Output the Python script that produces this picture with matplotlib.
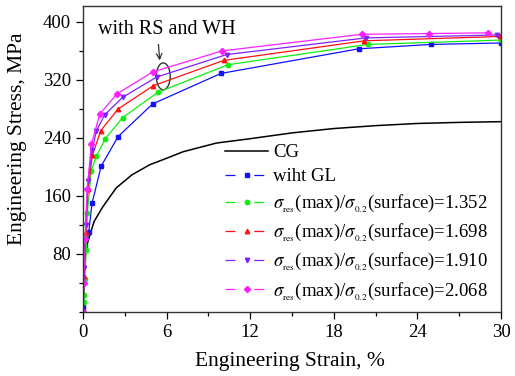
import matplotlib
matplotlib.use("Agg")
import matplotlib.pyplot as plt
from matplotlib.lines import Line2D
from matplotlib.patches import Ellipse
from matplotlib.ticker import MultipleLocator

plt.rcParams['font.family'] = ['Liberation Serif', 'DejaVu Serif']
plt.rcParams['mathtext.fontset'] = 'stix'

# ---- data ----
cg_x = [0, 0.05, 0.12, 0.25, 0.46, 0.8, 1.42, 2.38, 3.5, 4.78, 6, 7.18, 9.58, 12, 15, 18, 21, 24, 27, 30]
cg_y = [0, 35, 70, 90, 104, 125, 145, 171, 189, 203, 212, 221, 233, 239, 247, 253, 257, 260, 261.5, 262.5]

gl_x = [0, 0.03, 0.17, 0.41, 0.65, 1.3, 2.52, 5.0, 9.9, 19.8, 24.96, 30]
gl_y = [0, 7, 89, 110, 150, 201, 242, 287, 329, 363, 369, 371]

s1_x = [0, 0.05, 0.08, 0.12, 0.24, 0.31, 0.6, 0.96, 1.6, 2.84, 5.38, 10.4, 20.45, 30]
s1_y = [0, 14, 23, 46, 86, 137, 195, 215, 239, 268, 303, 341, 369, 375]

s2_x = [0, 0.08, 0.2, 0.36, 0.67, 1.27, 2.52, 5.04, 10.1, 20.2, 29.9]
s2_y = [0, 50, 110, 169, 216, 250, 280, 312, 347, 374, 380]

s3_x = [0, 0.1, 0.2, 0.35, 0.67, 0.96, 1.56, 2.84, 5.28, 10.3, 20.3, 29.7]
s3_y = [0, 60, 120, 180, 224, 250, 272, 296, 324, 355, 378, 382]

s4_x = [0, 0.05, 0.15, 0.3, 0.6, 1.2, 2.45, 5.0, 9.96, 20.0, 24.8, 29.1]
s4_y = [0, 40, 100, 170, 231, 273, 301, 331, 360, 383, 384, 385]

ratios = ["1.352", "1.698", "1.910", "2.068"]
labels = ["CG", "wiht GL"] + [r"$\sigma_{_{\rm res}}$(max)/$\sigma_{_{0.2}}$(surface)=" + r for r in ratios]
x_ticks = [0, 6, 12, 18, 24, 30]
y_ticks = [80, 160, 240, 320, 400]

colors = ["black", "#1010ff", "#10ee10", "#ff1010", "#8020ff", "#ff20ff"]
markers = [None, "s", "o", "^", "v", "D"]

fig = plt.figure(figsize=(5.15, 3.76), dpi=100)
ax = fig.add_axes([83/515, 1-312/376, (501-83)/515, (312-6)/376])

series = [(cg_x, cg_y), (gl_x, gl_y), (s1_x, s1_y), (s2_x, s2_y), (s3_x, s3_y), (s4_x, s4_y)]
for (xs, ys), c, m in zip(series, colors, markers):
    if m is None:
        ax.plot(xs, ys, color=c, lw=1.1)
    else:
        ax.plot(xs, ys, color=c, lw=0.9, marker=m, ms=3.2, mec=c, mfc=c)

ax.set_xlim(0, 30)
ax.set_ylim(0, 422)
ax.set_xticks(x_ticks)
ax.set_yticks(y_ticks)
ax.xaxis.set_minor_locator(MultipleLocator(3))
ax.yaxis.set_minor_locator(MultipleLocator(40))
ax.tick_params(which='major', direction='out', length=5, width=0.9, labelsize=13.5, top=False, right=False)
ax.tick_params(which='minor', direction='out', length=3, width=0.9, top=False, right=False)
for s in ax.spines.values():
    s.set_linewidth(1.0)
    s.set_color('#333333')

ax.set_xlabel("Engineering Strain, %", fontsize=15.5)
ax.set_ylabel("Engineering Stress, MPa", fontsize=15.5)
ax.xaxis.set_label_coords(0.495, -0.13)
ax.yaxis.set_label_coords(-0.135, 0.565)

# legend
handles = [Line2D([], [], color=colors[0], lw=1.1)]
for c, m in zip(colors[1:], markers[1:]):
    handles.append(Line2D([], [], color=c, lw=0.9, marker=m, ms=3.2, mec=c, mfc=c, dashes=(8, 15)))
leg = ax.legend(handles, labels, loc='upper left', bbox_to_anchor=((225-83)/418, (312-144)/306),
                frameon=False, fontsize=13.5, handlelength=2.3, handletextpad=0.25,
                borderpad=0, borderaxespad=0, labelspacing=0.38)

# annotation
ax.text(6.0, 389, "with RS and WH", fontsize=14.5, ha='center', va='center')
ax.annotate("", xy=(5.52, 343), xytext=(5.4, 373),
            arrowprops=dict(arrowstyle='->', color='#333333', lw=0.9))
ax.add_patch(Ellipse((5.76, 325), 1.0, 37, fill=False, ec='#333333', lw=1.0))

fig.savefig("out.png", dpi=100)
